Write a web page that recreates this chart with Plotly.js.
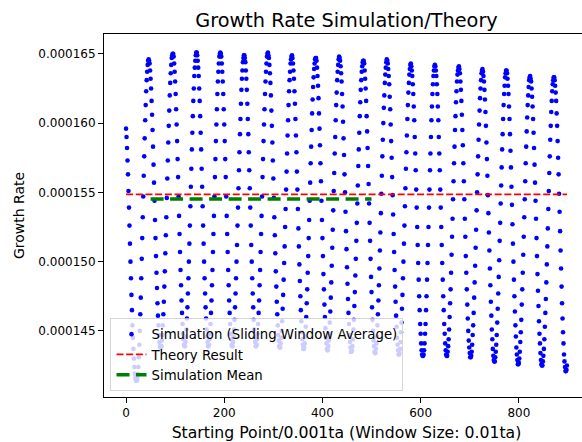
<!DOCTYPE html>
<html><head><meta charset="utf-8">
<script src="https://cdn.plot.ly/plotly-3.0.1.min.js"></script>
<style>html,body{margin:0;padding:0;overflow:hidden;background:#fff;width:582px;height:442px}#chart{width:600px;height:442px}</style>
</head><body><div id="chart"></div><script>
// Growth rate, in units of 1e-6 (one value per starting point 0..898)
const growthRateE6 = [
159.6,159.0,158.2,157.3,156.3,155.1,153.9,152.6,151.3,150.0,148.8,147.6,146.5,145.4,144.5,143.7,143.0,142.4,141.9,141.6,141.4,141.4,
141.4,141.6,141.9,142.4,143.1,144.0,145.0,146.2,147.4,148.8,150.2,151.7,153.2,154.7,156.2,157.6,158.9,160.2,161.3,162.3,163.1,163.7,164.2,164.5,
164.6,
164.5,164.3,163.8,163.2,162.5,161.6,160.6,159.5,158.3,157.0,155.7,154.4,153.0,151.7,150.4,149.2,148.1,147.0,146.1,145.4,144.7,144.2,143.9,143.8,
143.8,143.9,144.3,144.7,145.4,146.2,147.1,148.2,149.3,150.6,151.9,153.2,154.6,156.0,157.3,158.6,159.8,160.9,162.0,162.9,163.6,164.2,164.7,164.9,
165.0,
165.0,164.8,164.3,163.7,163.0,162.1,161.0,159.9,158.7,157.4,156.1,154.7,153.3,152.0,150.7,149.4,148.3,147.2,146.3,145.5,144.8,144.4,144.0,143.9,
143.9,144.2,144.6,145.1,145.9,146.7,147.7,148.8,150.0,151.3,152.6,154.0,155.4,156.7,158.1,159.3,160.5,161.6,162.5,163.4,164.0,164.5,164.9,165.1,
165.1,164.9,164.5,164.0,163.4,162.5,161.6,160.5,159.3,158.1,156.7,155.4,154.0,152.6,151.3,150.0,148.8,147.7,146.7,145.9,145.1,144.6,144.2,143.9,
143.9,144.0,144.4,144.8,145.5,146.3,147.2,148.3,149.4,150.7,152.0,153.3,154.7,156.1,157.4,158.7,159.9,161.0,162.1,163.0,163.7,164.3,164.8,165.0,
165.1,
165.0,164.8,164.3,163.7,163.0,162.1,161.0,159.9,158.7,157.4,156.1,154.7,153.3,152.0,150.7,149.4,148.3,147.2,146.3,145.5,144.8,144.4,144.0,143.9,
143.9,144.2,144.6,145.1,145.8,146.7,147.7,148.8,150.0,151.2,152.6,153.9,155.3,156.6,157.9,159.2,160.3,161.4,162.4,163.2,163.8,164.4,164.7,164.9,
164.9,164.7,164.4,163.8,163.2,162.4,161.4,160.3,159.2,157.9,156.6,155.3,153.9,152.6,151.2,150.0,148.8,147.7,146.7,145.8,145.1,144.6,144.2,143.9,
143.9,144.0,144.4,144.8,145.5,146.3,147.2,148.3,149.4,150.7,152.0,153.3,154.7,156.1,157.4,158.7,159.9,161.0,162.1,163.0,163.7,164.3,164.8,165.0,
165.1,
164.9,164.7,164.2,163.6,162.9,162.0,160.9,159.8,158.6,157.3,156.0,154.6,153.2,151.9,150.6,149.3,148.2,147.1,146.2,145.4,144.7,144.3,143.9,143.8,
143.8,144.1,144.5,145.0,145.7,146.6,147.6,148.7,149.9,151.1,152.5,153.8,155.2,156.5,157.8,159.1,160.2,161.3,162.3,163.1,163.7,164.3,164.6,164.8,
164.9,164.7,164.3,163.8,163.2,162.3,161.4,160.3,159.1,157.9,156.5,155.2,153.8,152.4,151.1,149.8,148.6,147.5,146.5,145.7,144.9,144.4,144.0,143.7,
143.7,143.8,144.1,144.6,145.3,146.0,147.0,148.0,149.2,150.4,151.7,153.0,154.4,155.7,157.1,158.3,159.5,160.7,161.7,162.6,163.3,163.9,164.3,164.6,
164.7,
164.7,164.5,164.0,163.4,162.7,161.8,160.7,159.6,158.4,157.1,155.8,154.4,153.0,151.7,150.4,149.1,148.0,146.9,146.0,145.2,144.5,144.1,143.7,143.6,
143.6,143.9,144.3,144.8,145.6,146.4,147.4,148.5,149.7,151.0,152.3,153.7,155.1,156.4,157.8,159.0,160.2,161.3,162.2,163.1,163.7,164.2,164.6,164.8,
164.7,164.5,164.1,163.6,163.0,162.1,161.2,160.1,158.9,157.7,156.3,155.0,153.6,152.2,150.9,149.6,148.4,147.3,146.3,145.5,144.7,144.2,143.8,143.5,
143.5,143.6,143.9,144.4,145.1,145.8,146.8,147.8,149.0,150.2,151.5,152.8,154.2,155.5,156.9,158.1,159.3,160.5,161.5,162.4,163.1,163.7,164.1,164.4,
164.5,
164.5,164.3,163.8,163.2,162.5,161.6,160.5,159.4,158.2,156.9,155.6,154.2,152.8,151.5,150.2,148.9,147.8,146.7,145.8,145.0,144.3,143.9,143.5,143.4,
143.4,143.7,144.1,144.6,145.4,146.2,147.2,148.3,149.5,150.8,152.1,153.5,154.9,156.2,157.6,158.8,160.0,161.1,162.0,162.9,163.5,164.0,164.4,164.6,
164.5,164.3,163.9,163.4,162.8,161.9,161.0,159.9,158.7,157.5,156.1,154.8,153.4,152.0,150.7,149.4,148.2,147.1,146.1,145.3,144.5,144.0,143.6,143.3,
143.3,143.4,143.7,144.2,144.9,145.6,146.6,147.6,148.8,150.0,151.3,152.6,154.0,155.3,156.7,157.9,159.1,160.3,161.3,162.2,162.9,163.5,163.9,164.2,
164.3,
164.1,163.8,163.4,162.8,162.1,161.2,160.2,159.0,157.8,156.6,155.2,153.9,152.5,151.2,149.9,148.7,147.5,146.5,145.5,144.8,144.1,143.6,143.3,143.2,
143.2,143.3,143.6,144.1,144.8,145.5,146.5,147.5,148.7,149.9,151.2,152.5,153.9,155.2,156.6,157.8,159.0,160.2,161.2,162.1,162.8,163.4,163.8,164.1,
164.2,
164.1,163.8,163.4,162.8,162.1,161.2,160.2,159.0,157.8,156.6,155.2,153.9,152.5,151.2,149.9,148.7,147.5,146.5,145.5,144.8,144.1,143.6,143.3,143.2,
143.2,143.5,143.9,144.4,145.1,146.0,147.0,148.0,149.2,150.5,151.8,153.1,154.5,155.8,157.1,158.3,159.5,160.5,161.5,162.3,163.0,163.5,163.8,164.0,
164.1,163.9,163.6,163.0,162.4,161.6,160.6,159.5,158.4,157.1,155.8,154.5,153.1,151.8,150.4,149.2,148.0,146.9,145.9,145.0,144.3,143.8,143.4,143.1,
143.1,143.2,143.5,144.0,144.7,145.4,146.3,147.4,148.5,149.7,151.0,152.3,153.7,155.0,156.3,157.6,158.8,159.9,160.9,161.8,162.5,163.1,163.6,163.8,
163.9,
163.7,163.4,163.0,162.4,161.7,160.8,159.8,158.6,157.4,156.2,154.8,153.5,152.1,150.8,149.5,148.3,147.1,146.1,145.1,144.4,143.7,143.2,142.9,142.8,
142.8,143.1,143.5,144.0,144.7,145.6,146.6,147.7,148.9,150.1,151.5,152.8,154.2,155.5,156.8,158.1,159.2,160.3,161.3,162.1,162.7,163.3,163.6,163.8,
163.8,163.6,163.2,162.7,162.1,161.2,160.3,159.2,158.0,156.8,155.4,154.1,152.7,151.3,150.0,148.7,147.5,146.4,145.4,144.6,143.8,143.3,142.9,142.6,
142.6,142.7,143.0,143.5,144.2,144.9,145.8,146.9,148.0,149.2,150.5,151.8,153.2,154.5,155.8,157.1,158.3,159.4,160.4,161.3,162.0,162.6,163.1,163.3,
163.4,
163.2,163.0,162.5,161.9,161.2,160.3,159.3,158.2,157.0,155.7,154.4,153.1,151.7,150.4,149.1,147.9,146.8,145.7,144.8,144.1,143.4,142.9,142.6,142.5,
142.5,142.8,143.2,143.7,144.4,145.3,146.3,147.3,148.5,149.8,151.1,152.4,153.8,155.1,156.4,157.6,158.8,159.8,160.8,161.6,162.3,162.8,163.1,163.3,
163.3,163.1,162.7,162.2,161.6,160.7,159.8,158.7,157.5,156.3,154.9,153.6,152.2,150.8,149.5,148.2,147.0,145.9,144.9,144.1,143.3,142.8,142.4,142.1,
142.1,142.2,142.5
];
const startingPoint = growthRateE6.map((_, i) => i);
const growthRate = growthRateE6.map(v => v * 1e-6);

const theoryValue = 1.5486e-4;
const theoryRange = [0, 898];
const simulationMeanValue = 1.5452e-4;
const meanRange = [50, 500];

const xTickValues = [0, 200, 400, 600, 800];
const yTickValues = [0.000145, 0.000150, 0.000155, 0.000160, 0.000165];
const yTickLabels = ['0.000145', '0.000150', '0.000155', '0.000160', '0.000165'];

const FONT = 'DejaVu Sans, Verdana, sans-serif';

const traces = [
  {
    type: 'scatter', mode: 'markers', name: 'Simulation (Sliding Window Average)',
    x: startingPoint, y: growthRate,
    marker: {color: '#0000ff', size: 4.6, line: {width: 0}}
  },
  {
    type: 'scatter', mode: 'lines', name: 'Theory Result',
    x: theoryRange, y: theoryRange.map(() => theoryValue),
    line: {color: '#ff0000', width: 1.8, dash: '7px,2.7px'}
  },
  {
    type: 'scatter', mode: 'lines', name: 'Simulation Mean',
    x: meanRange, y: meanRange.map(() => simulationMeanValue),
    line: {color: '#008000', width: 3.3, dash: '13px,6.5px'}
  }
];

const axisCommon = {
  showgrid: false, zeroline: false, showline: true, linecolor: '#000', linewidth: 1,
  mirror: true, ticks: 'outside', ticklen: 5, tickwidth: 1, tickcolor: '#000',
  tickfont: {family: FONT, size: 12, color: '#000'}
};

const layout = {
  width: 600, height: 442,
  margin: {l: 103.5, r: 11.2, t: 34, b: 45.3, pad: 0},
  paper_bgcolor: '#fff', plot_bgcolor: '#fff',
  font: {family: FONT, color: '#000'},
  title: {text: 'Growth Rate Simulation/Theory', font: {family: FONT, size: 19.3, color: '#000'},
          x: 0.5, xref: 'paper', y: 1 - 20 / 442, yref: 'container', yanchor: 'middle'},
  xaxis: Object.assign({}, axisCommon, {
    range: [-44.9, 942.9], tickvals: xTickValues, ticktext: xTickValues.map(String),
    title: {text: 'Starting Point/0.001ta (Window Size: 0.01ta)', font: {family: FONT, size: 15.7, color: '#000'}, standoff: 8}
  }),
  yaxis: Object.assign({}, axisCommon, {
    range: [1.4023e-4, 1.6643e-4], tickvals: yTickValues, ticktext: yTickLabels,
    title: {text: 'Growth Rate', font: {family: FONT, size: 14, color: '#000'}, standoff: 10}
  }),
  showlegend: true,
  legend: {
    x: 0.0134, y: 0.0165, xanchor: 'left', yanchor: 'bottom',
    bgcolor: 'rgba(255,255,255,0.8)', bordercolor: 'rgba(204,204,204,0.8)', borderwidth: 1,
    font: {family: FONT, size: 13.3, color: '#000'}, tracegroupgap: 0
  }
};

Plotly.newPlot('chart', traces, layout, {displayModeBar: false, staticPlot: true});
</script></body></html>
